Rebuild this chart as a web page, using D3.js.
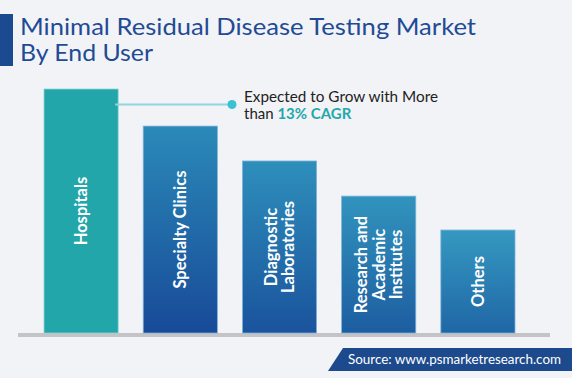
<!DOCTYPE html>
<html>
<head>
<meta charset="utf-8">
<script src="https://cdn.jsdelivr.net/npm/d3@7"></script>
<style>
  html, body { margin: 0; padding: 0; background: #f2f3f7; }
  svg { display: block; }
</style>
</head>
<body>
<svg id="chart" width="572" height="378"></svg>
<script>
const titleLines = ["Minimal Residual Disease Testing Market", "By End User"];
const categories = ["Hospitals", "Specialty Clinics", "Diagnostic Laboratories", "Research and Academic Institutes", "Others"];
const labelLines = [["Hospitals"], ["Specialty Clinics"], ["Diagnostic", "Laboratories"], ["Research and", "Academic", "Institutes"], ["Others"]];
const values = [100, 84.8, 70.5, 56.1, 42.2];
const annotationLine1 = "Expected to Grow with More";
const annotationPrefix = "than ";
const annotationHighlight = "13% CAGR";
const sourceText = "Source: www.psmarketresearch.com";

const svg = d3.select("#chart");
const W = 572, H = 378;
const font = "Lato, 'Open Sans', sans-serif";

svg.append("rect").attr("width", W).attr("height", H).attr("fill", "#f2f3f7");

// Title
svg.append("rect").attr("x", 0).attr("y", 14).attr("width", 13).attr("height", 52).attr("fill", "#1c4a90");
const title = svg.append("text").attr("font-family", font).attr("font-size", 23).attr("fill", "#1f4b94");
title.append("tspan").attr("x", 20).attr("y", 35).attr("textLength", 456).attr("lengthAdjust", "spacingAndGlyphs").text(titleLines[0]);
title.append("tspan").attr("x", 20).attr("y", 61).attr("textLength", 133).attr("lengthAdjust", "spacingAndGlyphs").text(titleLines[1]);

// Scales
const x = d3.scaleBand().domain(categories).range([44, 515]).paddingInner(0.2525).paddingOuter(0);
const y = d3.scaleLinear().domain([0, 100]).range([333, 89]);

const topCol = d3.scaleLinear().domain([42.2, 84.8]).range(["#3599c0", "#2a8ab8"]).clamp(true);
const botCol = d3.scaleLinear().domain([42.2, 84.8]).range(["#1f66a6", "#184a98"]).clamp(true);

const defs = svg.append("defs");
categories.forEach((c, i) => {
  const g = defs.append("linearGradient").attr("id", "g" + i).attr("x1", 0).attr("y1", 0).attr("x2", 0).attr("y2", 1);
  g.append("stop").attr("offset", 0).attr("stop-color", topCol(values[i]));
  g.append("stop").attr("offset", 1).attr("stop-color", botCol(values[i]));
});

// Axis baseline
svg.append("rect").attr("x", 18).attr("y", 333).attr("width", 532).attr("height", 4).attr("fill", "#c4c4c6");

// Bars
svg.selectAll("rect.bar").data(categories).join("rect")
  .attr("class", "bar")
  .attr("x", d => x(d))
  .attr("y", (d, i) => y(values[i]))
  .attr("width", x.bandwidth())
  .attr("height", (d, i) => y(0) - y(values[i]))
  .attr("fill", (d, i) => i === 0 ? "#22a6aa" : `url(#g${i})`)
  .attr("stroke", (d, i) => i === 0 ? "#8fd4d6" : "#7fb2dc")
  .attr("stroke-width", 0.8);

// Bar labels
categories.forEach((c, i) => {
  const cx = x(c) + x.bandwidth() / 2;
  const cy = (y(values[i]) + y(0)) / 2;
  const lines = labelLines[i];
  const n = lines.length;
  const g = svg.append("g").attr("transform", `translate(${cx},${cy}) rotate(-90)`);
  lines.forEach((ln, j) => {
    g.append("text")
      .attr("x", 0)
      .attr("y", (j - (n - 1) / 2) * 17.5)
      .attr("dy", "0.36em")
      .attr("text-anchor", "middle")
      .attr("font-family", font)
      .attr("font-weight", "bold")
      .attr("font-size", 16.5)
      .attr("fill", "#ffffff")
      .text(ln);
  });
});

// Annotation
const annY = 104.5;
svg.append("line").attr("x1", x(categories[0]) + x.bandwidth() - 3).attr("x2", 232)
  .attr("y1", annY).attr("y2", annY).attr("stroke", "#8fd5e2").attr("stroke-width", 2);
svg.append("circle").attr("cx", 232).attr("cy", annY).attr("r", 4.5).attr("fill", "#3ec0d4");
const ann = svg.append("text").attr("font-family", font).attr("font-size", 15).attr("fill", "#222");
ann.append("tspan").attr("x", 244).attr("y", 102).attr("textLength", 194).attr("lengthAdjust", "spacingAndGlyphs").text(annotationLine1);
const ann2 = svg.append("text").attr("font-family", font).attr("font-size", 15).attr("fill", "#222").attr("x", 244).attr("y", 119);
ann2.append("tspan").text(annotationPrefix);
ann2.append("tspan").attr("font-weight", "bold").attr("fill", "#22a8ab").text(annotationHighlight);

// Source banner
svg.append("path").attr("d", "M343,348 L572,348 L572,371 L328,371 Z").attr("fill", "#1d4a8c");
svg.append("text").attr("x", 348).attr("y", 364).attr("font-family", font).attr("font-size", 13.5)
  .attr("fill", "#ffffff").attr("textLength", 213).attr("lengthAdjust", "spacingAndGlyphs").text(sourceText);
</script>
</body>
</html>
